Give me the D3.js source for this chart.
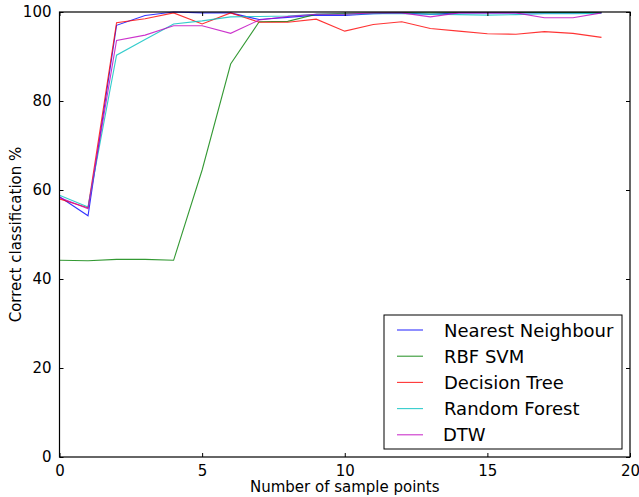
<!DOCTYPE html>
<html>
<head>
<meta charset="utf-8">
<script src="https://cdn.jsdelivr.net/npm/d3@7"></script>
<style>
  body { margin: 0; background: #fff; }
  text { font-family: "DejaVu Sans", sans-serif; }
</style>
</head>
<body>
<div id="plot"></div>
<script>
// Data
const samplePoints = d3.range(0, 20);
const nearestNeighbour = [58.5, 54.2, 97.0, 99.2, 100, 99.8, 99.8, 98.3, 98.8, 99.3, 99.2, 99.6, 99.8, 99.5, 99.8, 99.8, 99.8, 99.8, 99.8, 99.9];
const rbfSvm = [44.2, 44.1, 44.4, 44.4, 44.2, 64.5, 88.3, 97.8, 97.9, 99.5, 99.7, 99.8, 99.9, 99.8, 99.9, 99.9, 99.9, 99.9, 99.9, 99.9];
const decisionTree = [58.0, 56.0, 97.6, 98.5, 99.8, 97.3, 99.8, 97.7, 97.7, 98.4, 95.7, 97.2, 97.8, 96.3, 95.7, 95.1, 95.0, 95.6, 95.2, 94.3];
const randomForest = [58.8, 56.2, 90.3, 93.8, 97.3, 98.0, 98.9, 99.0, 99.1, 99.5, 99.5, 99.6, 99.6, 99.5, 99.4, 99.3, 99.4, 99.6, 99.6, 99.7];
const dtw = [58.3, 55.8, 93.6, 94.8, 96.9, 96.9, 95.2, 98.2, 99.0, 99.5, 99.5, 99.8, 99.8, 98.9, 99.8, 99.8, 99.8, 98.7, 98.7, 99.8];
const xTicks = [0, 5, 10, 15, 20];
const yTicks = [0, 20, 40, 60, 80, 100];

const series = [
    { name: "Nearest Neighbour", values: nearestNeighbour, color: "#0000ff" },
    { name: "RBF SVM", values: rbfSvm, color: "#008000" },
    { name: "Decision Tree", values: decisionTree, color: "#ff0000" },
    { name: "Random Forest", values: randomForest, color: "#00bfbf" },
    { name: "DTW", values: dtw, color: "#bf00bf" }
];

const W = 639, H = 497;
const margin = { top: 12, right: 9, bottom: 40, left: 59.5 };
const width = W - margin.left - margin.right;
const height = H - margin.top - margin.bottom;

const svg = d3.select("#plot")
    .append("svg")
    .attr("width", W)
    .attr("height", H);

const g = svg.append("g")
    .attr("transform", `translate(${margin.left},${margin.top})`);

const x = d3.scaleLinear().domain([0, 20]).range([0, width]);
const y = d3.scaleLinear().domain([0, 100]).range([height, 0]);

// Lines
const line = d3.line()
    .x((d, i) => x(samplePoints[i]))
    .y(d => y(d));

series.forEach(s => {
    g.append("path")
        .datum(s.values)
        .attr("fill", "none")
        .attr("stroke", s.color)
        .attr("stroke-opacity", 0.8)
        .attr("stroke-width", 1.1)
        .attr("d", line);
});

// Axes (ticks inside, on all four sides)
const axisStyle = sel => {
    sel.select(".domain").remove();
    sel.selectAll(".tick line").attr("stroke", "#000");
    sel.selectAll(".tick text")
        .attr("fill", "#000")
        .style("font-size", "15px")
        .style("font-family", "DejaVu Sans, sans-serif");
};

g.append("g")
    .attr("transform", `translate(0,${height})`)
    .call(d3.axisBottom(x).tickValues(xTicks).tickSizeInner(-4).tickPadding(8))
    .call(axisStyle);

g.append("g")
    .call(d3.axisTop(x).tickValues(xTicks).tickSizeInner(-4).tickFormat(""))
    .call(axisStyle);

g.append("g")
    .call(d3.axisLeft(y).tickValues(yTicks).tickSizeInner(-4).tickPadding(8))
    .call(axisStyle);

g.append("g")
    .attr("transform", `translate(${width},0)`)
    .call(d3.axisRight(y).tickValues(yTicks).tickSizeInner(-4).tickFormat(""))
    .call(axisStyle);

// Frame
g.append("rect")
    .attr("width", width)
    .attr("height", height)
    .attr("fill", "none")
    .attr("stroke", "#000")
    .attr("stroke-width", 1.2);

// Axis labels
svg.append("text")
    .attr("x", margin.left + width / 2)
    .attr("y", 492)
    .attr("text-anchor", "middle")
    .style("font-size", "15px")
    .text("Number of sample points");

svg.append("text")
    .attr("transform", `translate(21,${margin.top + height / 2}) rotate(-90)`)
    .attr("text-anchor", "middle")
    .style("font-size", "15px")
    .text("Correct classification %");

// Legend
const legend = svg.append("g").attr("transform", "translate(384,315)");
legend.append("rect")
    .attr("width", 238)
    .attr("height", 134)
    .attr("fill", "#fff")
    .attr("stroke", "#000")
    .attr("stroke-width", 1);

series.forEach((s, i) => {
    const ly = 15 + i * 26.2;
    legend.append("line")
        .attr("x1", 13).attr("x2", 39)
        .attr("y1", ly).attr("y2", ly)
        .attr("stroke", s.color)
        .attr("stroke-opacity", 0.8)
        .attr("stroke-width", 1.1);
    legend.append("text")
        .attr("x", i === 4 ? 59 : 60)
        .attr("y", ly + 6.5)
        .style("font-size", "18px")
        .text(s.name);
});
</script>
</body>
</html>
